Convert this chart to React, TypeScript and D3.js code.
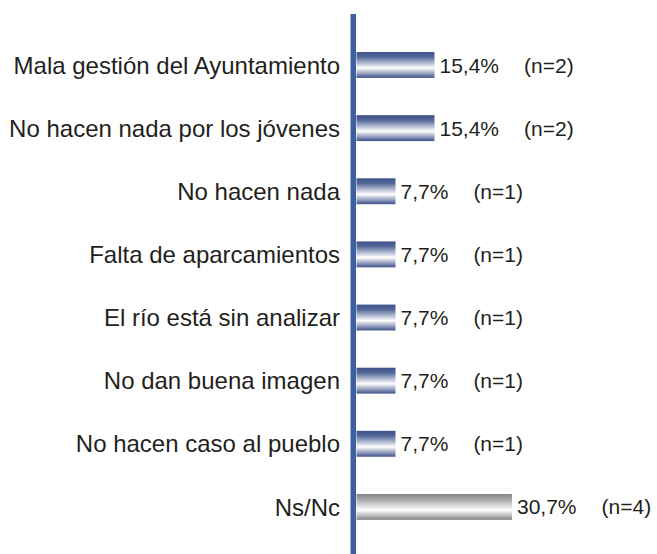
import React from "react";
import * as d3 from "d3";

const categories = [
  "Mala gestión del Ayuntamiento",
  "No hacen nada por los jóvenes",
  "No hacen nada",
  "Falta de aparcamientos",
  "El río está sin analizar",
  "No dan buena imagen",
  "No hacen caso al pueblo",
  "Ns/Nc",
];
const values = [15.4, 15.4, 7.7, 7.7, 7.7, 7.7, 7.7, 30.7];
const valueLabels = ["15,4%", "15,4%", "7,7%", "7,7%", "7,7%", "7,7%", "7,7%", "30,7%"];
const counts = [2, 2, 1, 1, 1, 1, 1, 4];
const grayFlags = [false, false, false, false, false, false, false, true];

const W = 657;
const H = 554;

export default function App() {
  const y = d3
    .scaleBand<string>()
    .domain(categories)
    .range([33.4, 538.5])
    .paddingInner(0.59)
    .paddingOuter(0.295);
  const x = d3.scaleLinear().domain([0, 30.7]).range([356.5, 512]);
  const font = "Liberation Sans, Arial, Helvetica, sans-serif";
  const textColor = "#231f20";

  return (
    <svg
      width={W}
      height={H}
      style={{ position: "fixed", left: 0, top: 0, background: "#fff" }}
      fontFamily={font}
    >
      <defs>
        <linearGradient id="gBlue" x1="0" y1="0" x2="0" y2="1">
          <stop offset="0%" stopColor="#3d5189" />
          <stop offset="20%" stopColor="#56699b" />
          <stop offset="62%" stopColor="#ffffff" />
          <stop offset="100%" stopColor="#3d5189" />
        </linearGradient>
        <linearGradient id="gGray" x1="0" y1="0" x2="0" y2="1">
          <stop offset="0%" stopColor="#878787" />
          <stop offset="20%" stopColor="#a5a5a5" />
          <stop offset="62%" stopColor="#ffffff" />
          <stop offset="100%" stopColor="#878787" />
        </linearGradient>
      </defs>
      {categories.map((c, i) => {
        const y0 = y(c)!;
        const bh = y.bandwidth();
        const cy = y0 + bh / 2;
        const x1 = x(values[i]);
        return (
          <g key={c}>
            <text
              x={340}
              y={cy}
              dy="0.36em"
              textAnchor="end"
              fontSize={24}
              fill={textColor}
            >
              {c}
            </text>
            <rect
              x={x(0)}
              y={y0}
              width={x1 - x(0)}
              height={bh}
              fill={grayFlags[i] ? "url(#gGray)" : "url(#gBlue)"}
            />
            <text x={x1 + 5} y={cy} dy="0.36em" fontSize={21} fill={textColor}>
              {valueLabels[i]}
              <tspan dx={25}>{`(n=${counts[i]})`}</tspan>
            </text>
          </g>
        );
      })}
      <rect x={350.5} y={14} width={5.5} height={H - 14} fill="#3e5fa0" />
    </svg>
  );
}
